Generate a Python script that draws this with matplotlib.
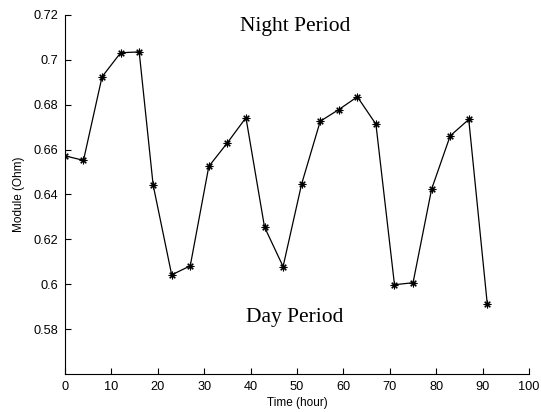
import matplotlib.pyplot as plt

time_h = [0, 4, 8, 12, 16, 19, 23, 27, 31, 35, 39, 43, 47, 51, 55, 59, 63, 67,
          71, 75, 79, 83, 87, 91]
module_ohm = [0.6572, 0.6552, 0.6924, 0.7031, 0.7035, 0.6443, 0.6042, 0.6082,
              0.6525, 0.6630, 0.6742, 0.6255, 0.6079, 0.6447, 0.6726, 0.6778,
              0.6835, 0.6713, 0.5998, 0.6007, 0.6424, 0.6661, 0.6734, 0.5910]

plt.rcParams['font.family'] = ['Liberation Sans', 'DejaVu Sans']

fig = plt.figure(figsize=(5.41, 4.12), dpi=100)
ax = fig.add_axes([0.120, 0.092, 0.858, 0.872])

ax.plot(time_h, module_ohm, color='black', linewidth=0.9,
        marker=(8, 2, 0), markersize=5.5, markeredgewidth=0.8)

ax.set_xlim(0, 100)
ax.set_ylim(0.56, 0.72)
ax.set_xticks(range(0, 101, 10))
ax.set_yticks([0.58, 0.6, 0.62, 0.64, 0.66, 0.68, 0.7, 0.72])
ax.set_yticklabels(['0.58', '0.6', '0.62', '0.64', '0.66', '0.68', '0.7', '0.72'])
ax.spines['top'].set_visible(False)
ax.spines['right'].set_visible(False)
ax.tick_params(direction='in', labelsize=9.2, length=4, pad=5)

ax.set_xlabel('Time (hour)', fontsize=8.5, labelpad=3)
ax.set_ylabel('Module (Ohm)', fontsize=8.5, labelpad=6)

ax.text(49.5, 0.7147, 'Night Period', family='Liberation Serif', fontsize=15.5,
        ha='center', va='center')
ax.text(49.5, 0.5853, 'Day Period', family='Liberation Serif', fontsize=15.5,
        ha='center', va='center')

fig.savefig('out.png', dpi=100)
